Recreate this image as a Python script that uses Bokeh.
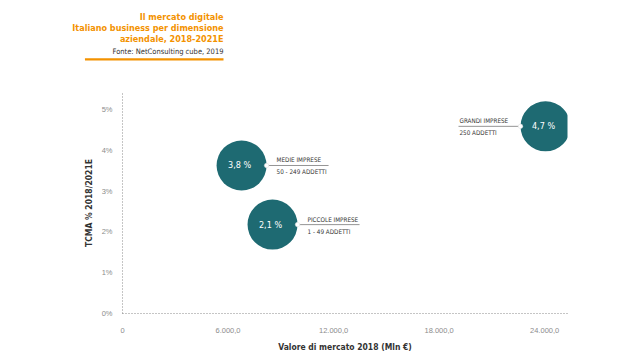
from bokeh.plotting import figure
from bokeh.models import Title, FixedTicker, ColumnDataSource
from bokeh.embed import file_html
from bokeh.resources import INLINE
from bokeh.core.properties import value

# ---- data ----
segments = ["GRANDI IMPRESE", "MEDIE IMPRESE", "PICCOLE IMPRESE"]
segment_sub = ["250 ADDETTI", "50 - 249 ADDETTI", "1 - 49 ADDETTI"]
market_value = [24050, 6770, 8530]      # Mln €
cagr_position = [4.59, 3.63, 2.18]       # % as drawn
cagr_label = ["4,7 %", "3,8 %", "2,1 %"]
label_side = [-1, 1, 1]                  # label left (-1) or right (+1) of bubble

x_ticks = [0, 6000, 12000, 18000, 24000]
x_tick_labels = ["0", "6.000,0", "12.000,0", "18.000,0", "24.000,0"]
y_ticks = [0, 1, 2, 3, 4, 5]
y_tick_labels = ["0%", "1%", "2%", "3%", "4%", "5%"]

title_lines = ["Il mercato digitale", "Italiano business per dimensione", "aziendale, 2018-2021E"]
source_line = "Fonte: NetConsulting cube, 2019"
x_title = "Valore di mercato 2018 (Mln €)"
y_title = "TCMA % 2018/2021E"

# ---- layout ----
W, H = 640, 360
BL, BR, BT, BB = 122, 73, 92, 47
FW, FH = W - BL - BR, H - BT - BB
X_END, Y_END = 25300, 5.42
sx = X_END / FW  # data per px

TEAL = "#1e6a72"
ORANGE = "#f39200"
COND = "DejaVu Sans Condensed"

p = figure(width=W, height=H, output_backend="svg", toolbar_location=None,
           x_range=(0, X_END), y_range=(0, Y_END),
           min_border_left=BL, min_border_right=BR, min_border_top=BT, min_border_bottom=BB)
p.outline_line_color = None
p.xgrid.visible = False
p.ygrid.visible = False
p.background_fill_color = "white"
p.border_fill_color = "white"

for ax in (p.xaxis[0], p.yaxis[0]):
    ax.axis_line_color = "#8a8a8a"
    ax.axis_line_dash = "1 2"
    ax.axis_line_width = 1
    ax.major_tick_line_color = None
    ax.minor_tick_line_color = None
    ax.major_label_text_color = "#8c8c8c"
    ax.major_label_text_font = "Liberation Sans"
    ax.major_label_text_font_size = "7.5px"
    ax.axis_label_text_font = COND
    ax.axis_label_text_font_style = "bold"
    ax.axis_label_text_font_size = "8.5px"
    ax.axis_label_text_color = "#333333"

p.xaxis.ticker = FixedTicker(ticks=x_ticks)
p.xaxis.major_label_overrides = {t: l for t, l in zip(x_ticks, x_tick_labels)}
p.yaxis.ticker = FixedTicker(ticks=y_ticks)
p.yaxis.major_label_overrides = {t: l for t, l in zip(y_ticks, y_tick_labels)}
p.xaxis.axis_label = x_title
p.yaxis.axis_label = y_title
p.xaxis.major_label_standoff = 8
p.xaxis.axis_label_standoff = 6
p.yaxis.major_label_standoff = 4
p.yaxis.axis_label_standoff = 5

R = 25  # bubble radius, px
LINE = 62
dot_x = [m + s * R * sx for m, s in zip(market_value, label_side)]
end_x = [m + s * (R + LINE) * sx for m, s in zip(market_value, label_side)]
text_x = [min(d, e) for d, e in zip(dot_x, end_x)]
text_dx = [1 if s < 0 else 10 for s in label_side]

src = ColumnDataSource(dict(x=market_value, y=cagr_position, lab=cagr_label,
                            seg=segments, sub=segment_sub,
                            dx=dot_x, ex=end_x, tx=text_x, tdx=text_dx))

p.scatter("x", "y", source=src, size=2 * R, fill_color=TEAL, line_color=None)
p.text("x", "y", text="lab", source=src, text_color="white", text_font=value(COND),
       text_font_size="9px", text_align="center", text_baseline="middle", x_offset=-2)
p.segment(x0="dx", y0="y", x1="ex", y1="y", source=src, line_color="#666666", line_width=0.7)
p.scatter("dx", "y", source=src, size=4.5, fill_color="white", line_color="#dddddd", line_width=0.5)
p.text("tx", "y", text="seg", source=src, text_color="#333333", text_font=value(COND),
       text_font_size="6.3px", text_align="left", text_baseline="bottom", y_offset=-2, x_offset="tdx")
p.text("tx", "y", text="sub", source=src, text_color="#333333", text_font=value(COND),
       text_font_size="6.3px", text_align="left", text_baseline="top", y_offset=3, x_offset="tdx")

# ---- title block: stacked titles above the frame (first added = nearest the frame) ----
OFF = BL + FW - 223  # right edge of title block at x = 223
p.title = None
p.add_layout(Title(text=" ", align="right", offset=OFF, text_font_size="2px", standoff=28), "above")
p.add_layout(Title(text=" ", align="right", offset=OFF, text_font_size="2px",
                   background_fill_color=ORANGE, padding=(69, 69, 0, 0), standoff=0), "above")
p.add_layout(Title(text=source_line, align="right", offset=OFF, text_font=COND,
                   text_font_size="7.5px", text_font_style="normal", text_color="#333333",
                   standoff=2), "above")
for t in reversed(title_lines):
    p.add_layout(Title(text=t, align="right", offset=OFF, text_font=COND,
                       text_font_size="9px", text_font_style="bold", text_color=ORANGE,
                       standoff=-1), "above")

open("out.html", "w").write(file_html(p, INLINE))
